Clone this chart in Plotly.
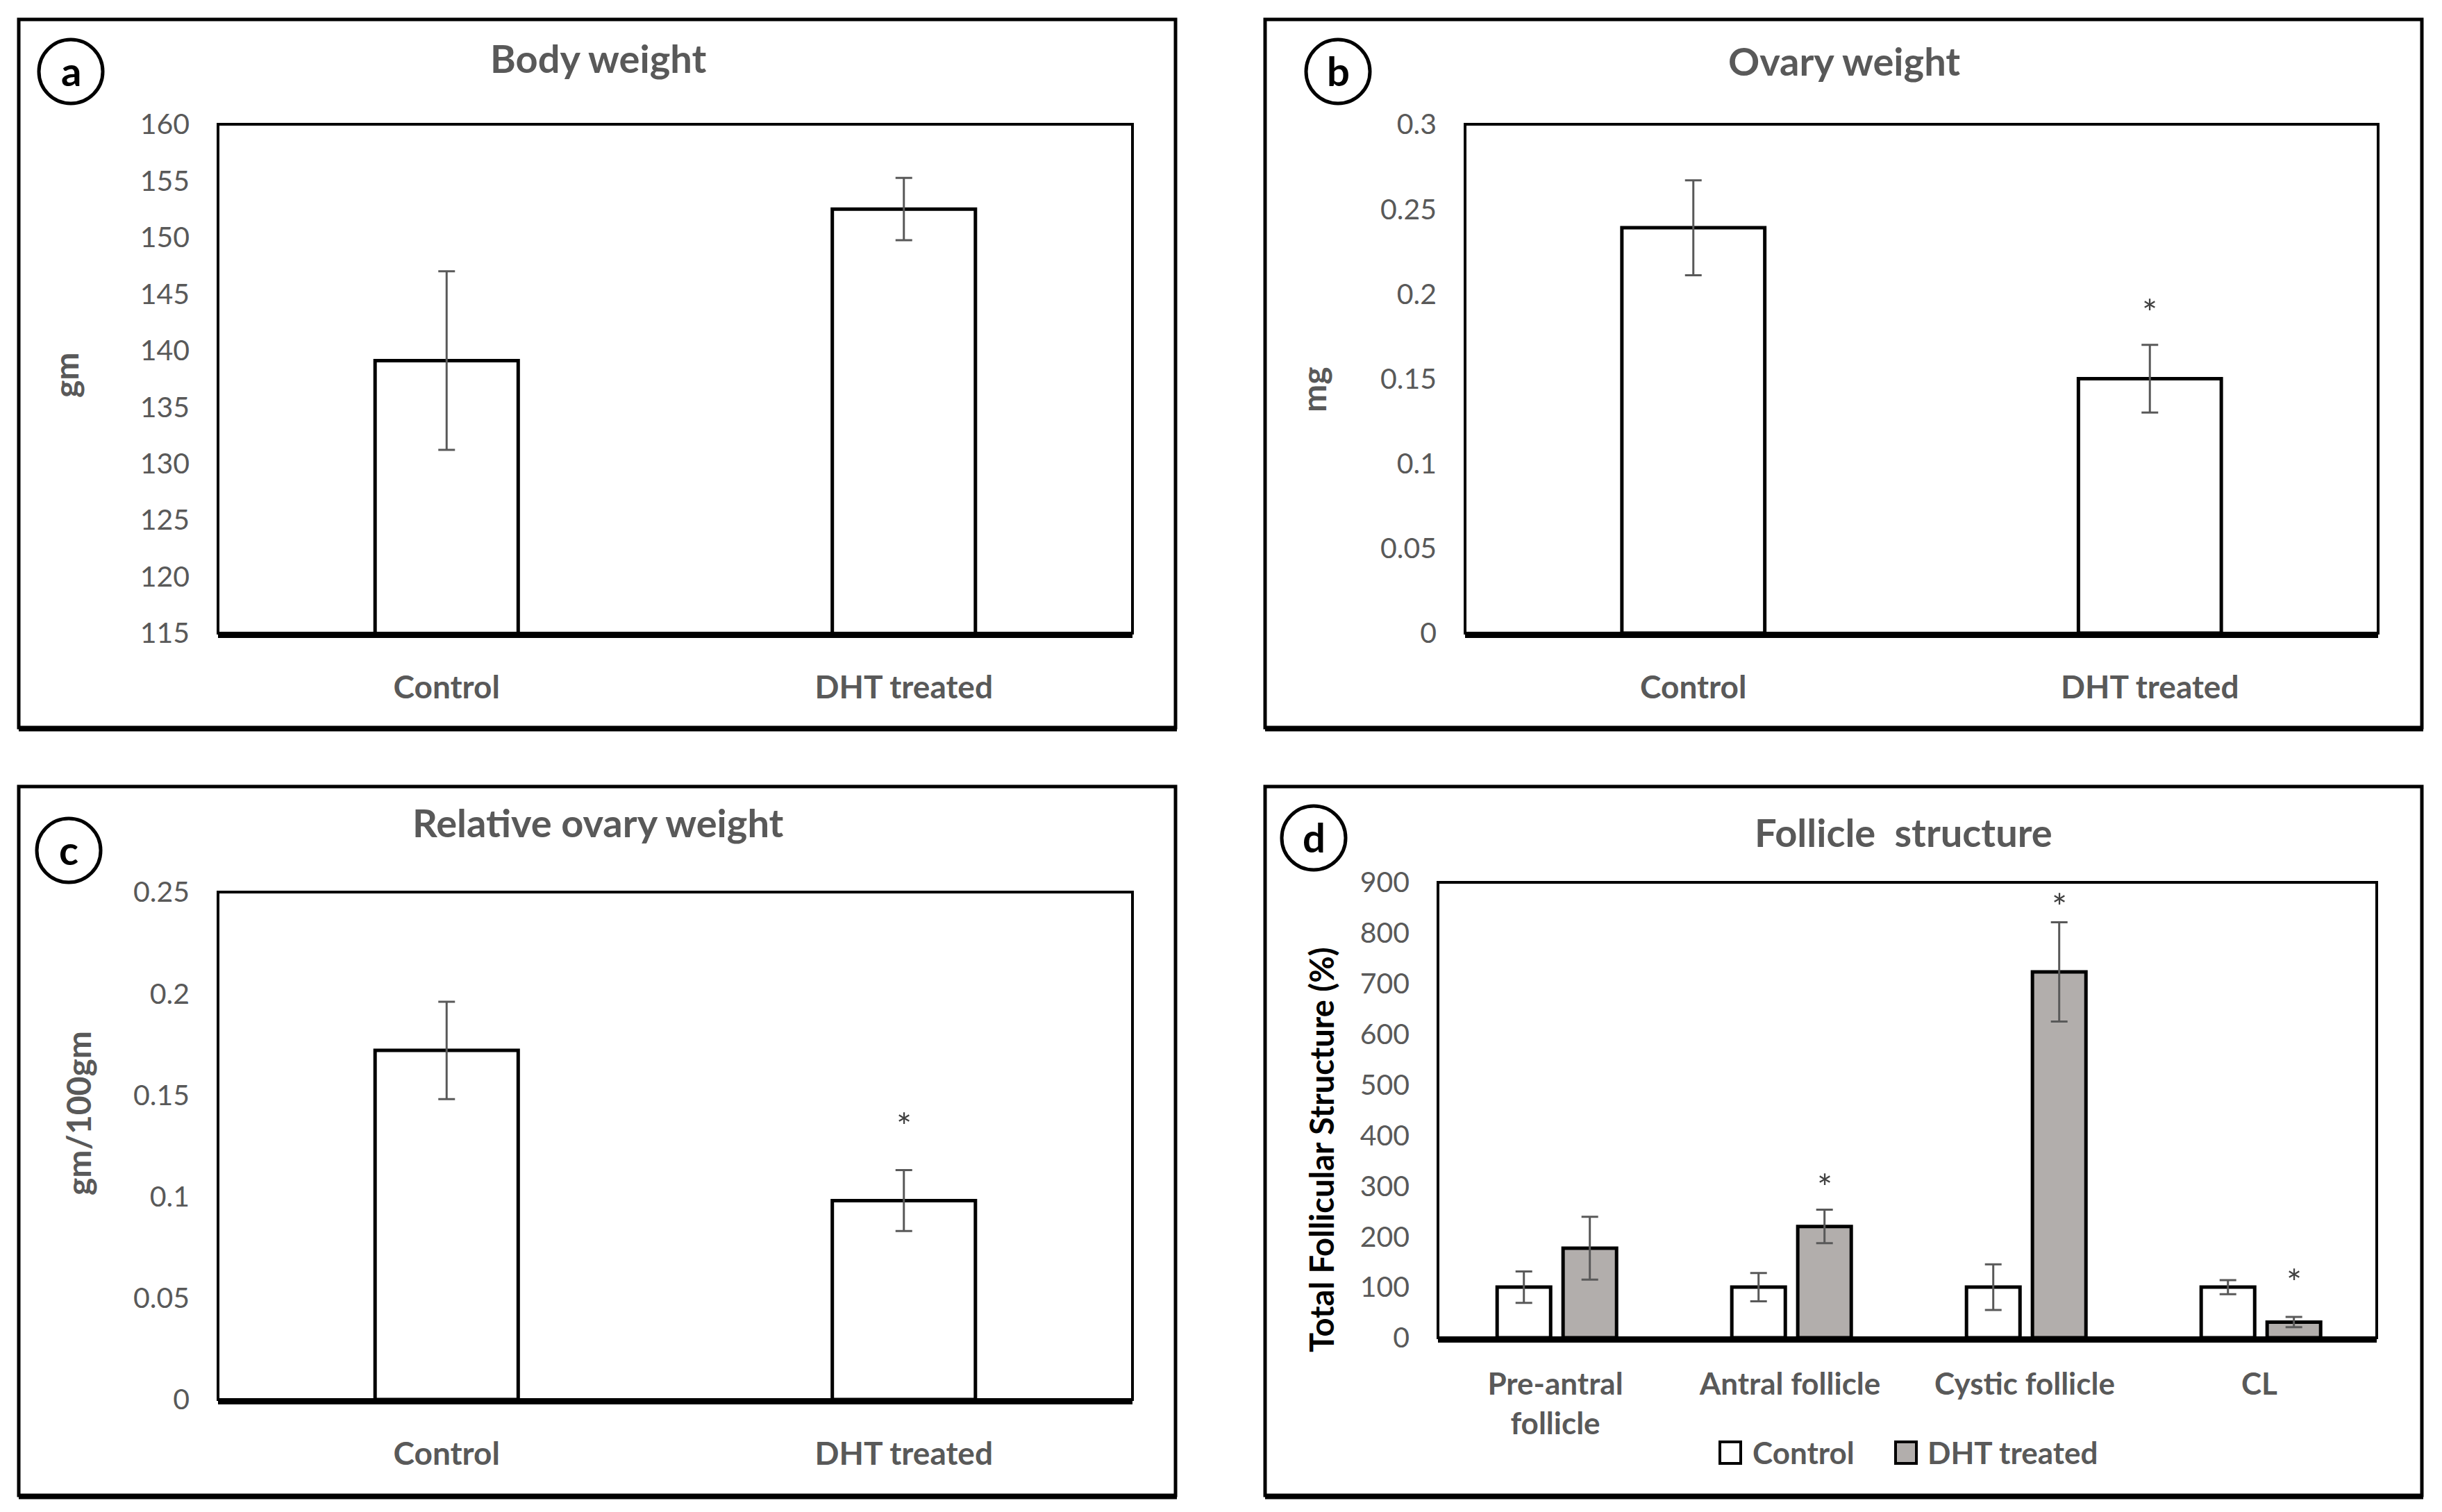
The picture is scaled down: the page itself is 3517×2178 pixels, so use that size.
import plotly.graph_objects as go

W, H = 3517, 2178

# ---- data ----
groups = ["Control", "DHT treated"]

body_weight = [139.1, 152.5]
body_weight_err = [7.9, 2.75]

ovary_weight = [0.239, 0.15]
ovary_weight_err = [0.028, 0.02]
ovary_star = [None, 0.194]

rel_ovary = [0.172, 0.098]
rel_ovary_err = [0.024, 0.015]
rel_ovary_star = [None, 0.139]

follicle_types = ["Pre-antral<br>follicle", "Antral follicle", "Cystic follicle", "CL"]
follicle_control = [100, 100, 100, 100]
follicle_control_err = [31, 28, 45, 14]
follicle_dht = [177, 220, 723, 31]
follicle_dht_err = [62, 33, 98, 10]
follicle_star = [None, 314, 868, 126]

series_names = ["Control", "DHT treated"]

FONT = "Lato"
GREY = "#595959"
DHT_FILL = "#b2aeac"


def fx(p):
    return p / W


def fy(p):
    return 1 - p / H


fig = go.Figure()

err_style = dict(type="data", color=GREY, thickness=3, width=12)
white_bar = dict(color="white", line=dict(color="black", width=5))


def simple_panel(n, vals, errs):
    xa = "x" if n == 1 else f"x{n}"
    ya = "y" if n == 1 else f"y{n}"
    fig.add_trace(go.Bar(x=groups, y=vals, error_y=dict(array=errs, **err_style),
                         marker=white_bar, width=0.313, xaxis=xa, yaxis=ya,
                         showlegend=False, hoverinfo="x+y"))


simple_panel(1, body_weight, body_weight_err)
simple_panel(2, ovary_weight, ovary_weight_err)
simple_panel(3, rel_ovary, rel_ovary_err)

bar_w = 0.228
ctrl_off, dht_off = -0.248, 0.033
fig.add_trace(go.Bar(x=follicle_types, y=follicle_control, name=series_names[0],
                     error_y=dict(array=follicle_control_err, **err_style),
                     marker=white_bar, width=bar_w, offset=ctrl_off,
                     xaxis="x4", yaxis="y4", showlegend=False))
fig.add_trace(go.Bar(x=follicle_types, y=follicle_dht, name=series_names[1],
                     error_y=dict(array=follicle_dht_err, **err_style),
                     marker=dict(color=DHT_FILL, line=dict(color="black", width=5)),
                     width=bar_w, offset=dht_off,
                     xaxis="x4", yaxis="y4", showlegend=False))

# plot-area pixel boxes: (left, right, top, bottom)
areas = {
    1: (314, 1631, 179, 912),
    2: (2110, 3425, 179, 912),
    3: (314, 1631, 1285, 2016),
    4: (2071, 3423, 1271, 1927),
}
yranges = {1: ([115, 160], 5), 2: ([0, 0.3], 0.05), 3: ([0, 0.25], 0.05), 4: ([0, 900], 100)}

layout = {}
shapes = []
for n, (l, r, t, b) in areas.items():
    sfx = "" if n == 1 else str(n)
    xfont = 44 if n == 4 else 46
    layout[f"xaxis{sfx}"] = dict(
        domain=[fx(l), fx(r)], anchor=f"y{sfx}", showline=True, linecolor="black",
        linewidth=7, showgrid=False, ticks="", fixedrange=True, automargin=False,
        ticklabelstandoff=22 if n == 4 else 32,
        tickfont=dict(family=FONT, size=xfont, color=GREY, weight="bold"),
    )
    rng, step = yranges[n]
    layout[f"yaxis{sfx}"] = dict(
        domain=[fy(b), fy(t)], anchor=f"x{sfx}", range=rng, dtick=step,
        showline=False, showgrid=False, zeroline=False, ticks="", automargin=False,
        ticklabelstandoff=40, fixedrange=True,
        tickfont=dict(family=FONT, size=41, color=GREY),
    )
    shapes.append(dict(type="rect", xref=f"x{sfx} domain", yref=f"y{sfx} domain",
                       x0=0, x1=1, y0=0, y1=1, line=dict(color="black", width=4),
                       layer="above"))

# outer panel frames (bottom edge is drawn heavier, as in the original)
for (l, r, t, b) in [(27, 1693, 28, 1048), (1822, 3488, 28, 1048),
                     (27, 1693, 1133, 2154), (1822, 3488, 1133, 2154)]:
    shapes.append(dict(type="rect", xref="paper", yref="paper",
                       x0=fx(l), x1=fx(r), y0=fy(b), y1=fy(t),
                       line=dict(color="black", width=5)))
    shapes.append(dict(type="line", xref="paper", yref="paper",
                       x0=fx(l), x1=fx(r + 2), y0=fy(b + 2), y1=fy(b + 2),
                       line=dict(color="black", width=7)))

annotations = []

# panel letters in circles
for letter, (cx, cy) in zip("abcd", [(102, 103), (1927, 103), (99, 1225), (1892, 1207)]):
    rad = 46
    shapes.append(dict(type="circle", xref="paper", yref="paper",
                       x0=fx(cx - rad), x1=fx(cx + rad), y0=fy(cy + rad), y1=fy(cy - rad),
                       line=dict(color="black", width=5)))
    annotations.append(dict(text=f"<b>{letter}</b>", x=fx(cx), y=fy(cy - 2), xref="paper",
                            yref="paper", showarrow=False, xanchor="center", yanchor="middle",
                            font=dict(family=FONT, size=58, color="black")))

# panel titles
for txt, (cx, cy) in [("Body weight", (861, 83)), ("Ovary weight", (2656, 87)),
                      ("Relative ovary weight", (861, 1184)),
                      ("Follicle  structure", (2741, 1198))]:
    annotations.append(dict(text=f"<b>{txt}</b>", x=fx(cx), y=fy(cy), xref="paper",
                            yref="paper", showarrow=False, xanchor="center", yanchor="middle",
                            font=dict(family=FONT, size=56, color=GREY)))

# y-axis titles
for txt, (cx, cy), size, col in [("gm", (94, 540), 48, GREY), ("mg", (1891, 561), 48, GREY),
                                 ("gm/100gm", (112, 1604), 48, GREY),
                                 ("Total Follicular Structure (%)", (1903, 1656), 47, "black")]:
    annotations.append(dict(text=f"<b>{txt}</b>", x=fx(cx), y=fy(cy), xref="paper",
                            yref="paper", showarrow=False, textangle=-90,
                            xanchor="center", yanchor="middle",
                            font=dict(family=FONT, size=size, color=col)))

# significance stars
star_font = dict(family=FONT, size=52, color="#404040")
for sfx, stars in [("2", ovary_star), ("3", rel_ovary_star)]:
    for g, s in zip(groups, stars):
        if s is not None:
            annotations.append(dict(text="*", x=g, y=s, xref=f"x{sfx}", yref=f"y{sfx}",
                                    showarrow=False, yanchor="middle", yshift=-12,
                                    font=star_font))
for i, s in enumerate(follicle_star):
    if s is not None:
        annotations.append(dict(text="*", x=i + dht_off + bar_w / 2, y=s, xref="x4", yref="y4",
                                showarrow=False, yanchor="middle", yshift=-12, font=star_font))

# legend for panel d
for name, fill, sx, tx in [(series_names[0], "white", 2477, 2522),
                           (series_names[1], DHT_FILL, 2730, 2774)]:
    shapes.append(dict(type="rect", xref="paper", yref="paper",
                       x0=fx(sx), x1=fx(sx + 30), y0=fy(2108), y1=fy(2077),
                       fillcolor=fill, line=dict(color="black", width=4)))
    annotations.append(dict(text=f"<b>{name}</b>", x=fx(tx), y=fy(2092), xref="paper",
                            yref="paper", showarrow=False, xanchor="left", yanchor="middle",
                            font=dict(family=FONT, size=44, color=GREY)))

fig.update_layout(
    width=W, height=H, margin=dict(l=0, r=0, t=0, b=0, autoexpand=False),
    paper_bgcolor="white", plot_bgcolor="white",
    barmode="overlay", shapes=shapes, annotations=annotations,
    font=dict(family=FONT, color=GREY), **layout,
)

# drop the browser's default body margin so the figure sits at the page origin
fig.write_html("out.html", config={"displayModeBar": False},
               post_script="document.body.style.margin='0px';")
